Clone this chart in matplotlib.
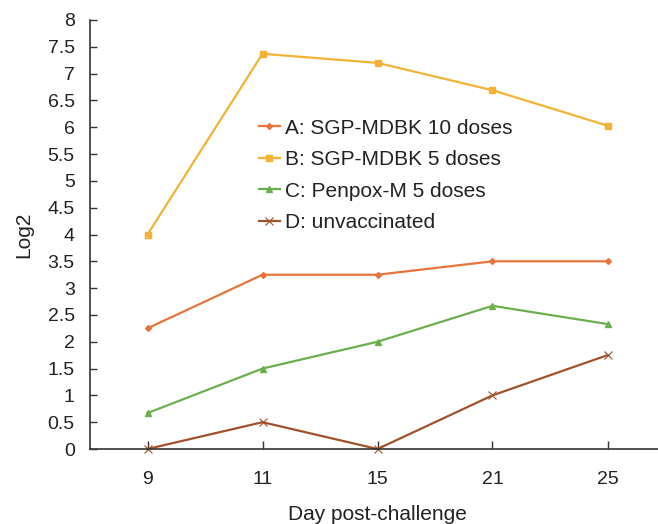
import matplotlib
matplotlib.use("Agg")
import matplotlib.pyplot as plt

days = ["9", "11", "15", "21", "25"]
group_a = [2.25, 3.25, 3.25, 3.5, 3.5]
group_b = [4.0, 7.37, 7.2, 6.69, 6.03]
group_c = [0.67, 1.5, 2.0, 2.67, 2.33]
group_d = [0.0, 0.5, 0.0, 1.0, 1.75]
labels = ["A: SGP-MDBK 10 doses", "B: SGP-MDBK 5 doses",
          "C: Penpox-M 5 doses", "D: unvaccinated"]
yticks = [0, 0.5, 1, 1.5, 2, 2.5, 3, 3.5, 4, 4.5, 5, 5.5, 6, 6.5, 7, 7.5, 8]

plt.rcParams["font.family"] = ["Liberation Sans", "DejaVu Sans"]

fig = plt.figure(figsize=(6.58, 5.24), dpi=100)
ax = fig.add_axes([90 / 658, 1 - 449 / 524, 575 / 658, 429 / 524])

x = range(len(days))
ax.plot(x, group_a, color="#E8743B", marker="D", markersize=3, lw=1.6, label=labels[0])
ax.plot(x, group_b, color="#F5B335", marker="s", markersize=5, lw=1.6, label=labels[1])
ax.plot(x, group_c, color="#6DAE4F", marker="^", markersize=5, lw=1.6, label=labels[2])
ax.plot(x, group_d, color="#A0522D", marker="x", markersize=6, mew=0.8, lw=1.6,
        label=labels[3], clip_on=False)

ax.set_xlim(-0.5, 4.5)
ax.set_ylim(0, 8)
ax.set_xticks(list(x))
ax.set_xticklabels(days)
ax.set_yticks(yticks)
ax.set_yticklabels([f"{v:g}" for v in yticks])

for side in ["top", "right"]:
    ax.spines[side].set_visible(False)
for side in ["left", "bottom"]:
    ax.spines[side].set_color("#333333")
    ax.spines[side].set_linewidth(1.2)

ax.tick_params(axis="y", direction="in", length=5, width=1, colors="#333333",
               labelsize=14, pad=11, labelcolor="#222222")
ax.tick_params(axis="x", direction="in", length=6, width=1, colors="#333333",
               labelsize=14, pad=16, labelcolor="#222222")

ax.set_xlabel("Day post-challenge", fontsize=15, color="#222222", labelpad=12)
ax.set_ylabel("Log2", fontsize=15, color="#222222", labelpad=10)

leg = ax.legend(loc="upper left", bbox_to_anchor=(0.261, 0.814), frameon=False,
                fontsize=15, handlelength=1.0, handletextpad=0.25,
                labelspacing=0.6, labelcolor="#222222")

fig.savefig("out.png", dpi=100)
